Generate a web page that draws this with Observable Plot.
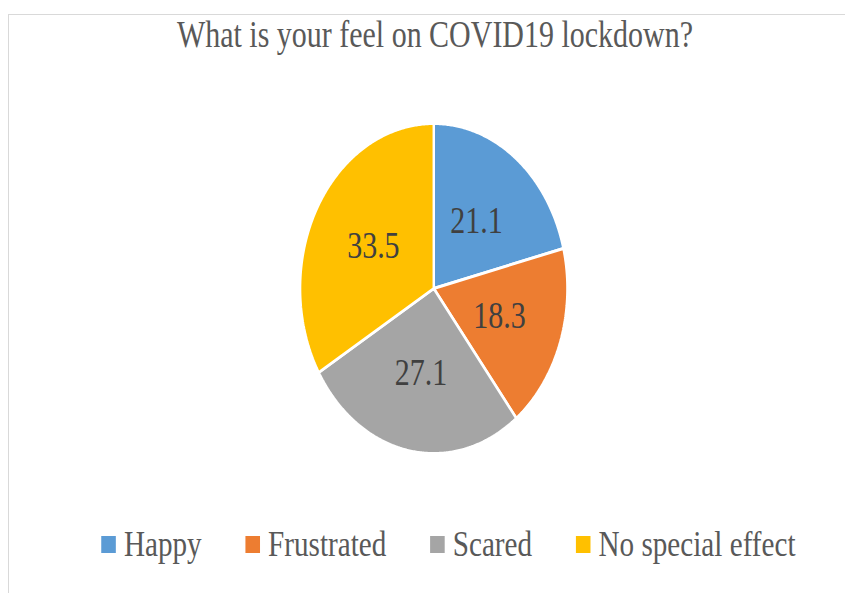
<!DOCTYPE html>
<html>
<head>
<meta charset="utf-8">
<script src="https://cdn.jsdelivr.net/npm/d3@7"></script>
<script src="https://cdn.jsdelivr.net/npm/@observablehq/plot@0.6"></script>
<style>
  html, body { margin: 0; padding: 0; background: #fff; overflow: hidden; width: 845px; height: 593px; }
  #frame { position: absolute; left: 8px; top: 14px; width: 900px; height: 700px;
           border-left: 1px solid #d9d9d9; border-top: 1px solid #d9d9d9; box-sizing: border-box; }
  #wrap { position: absolute; left: 0; top: 0; width: 1043px; transform: scaleX(0.81); transform-origin: 0 0;
          font-family: "Liberation Serif", "Times New Roman", serif; }
  #title { box-sizing: border-box; padding-top: 16px; height: 80px; line-height: 37px; font-size: 37px;
           color: #595959; text-align: center; padding-left: 31px; white-space: nowrap; }
  #chart svg { display: block; }
  #legend { margin-top: 26px; display: flex; align-items: center; padding-left: 125px;
            font-size: 36px; line-height: 36px; color: #595959; white-space: nowrap; }
  .item { display: flex; align-items: center; margin-right: 54px; }
  .sw { width: 18px; height: 17px; margin-right: 10px; flex: none; }
</style>
</head>
<body>
<div id="frame"></div>
<div id="wrap">
  <div id="title"></div>
  <div id="chart"></div>
  <div id="legend"></div>
</div>
<script>
const titleText = "What is your feel on COVID19 lockdown?";
const categories = ["Happy", "Frustrated", "Scared", "No special effect"];
const values = [21.1, 18.3, 27.1, 33.5];
const valueLabels = ["21.1", "18.3", "27.1", "33.5"];
const colors = ["#5B9BD5", "#ED7D31", "#A5A5A5", "#FFC000"];

document.getElementById("title").textContent = titleText;

const rows = categories.map((c, i) => ({category: c, value: values[i], label: valueLabels[i]}));
const arcs = d3.pie().sort(null).value(d => d.value)(rows);

// slice outlines in unit-circle coordinates (angle 0 at 12 o'clock, clockwise)
const outline = [];
for (const a of arcs) {
  const cat = a.data.category;
  outline.push({category: cat, x: 0, y: 0});
  const n = Math.max(2, Math.ceil((a.endAngle - a.startAngle) / (Math.PI / 360)));
  for (let k = 0; k <= n; k++) {
    const t = a.startAngle + (a.endAngle - a.startAngle) * k / n;
    outline.push({category: cat, x: Math.sin(t), y: Math.cos(t)});
  }
}
const labelPos = arcs.map(a => {
  const m = (a.startAngle + a.endAngle) / 2;
  return {label: a.data.label, x: 0.52 * Math.sin(m), y: 0.52 * Math.cos(m)};
});

const W = 1043, H = 420, cx = 535, cy = 208, r = 165;
const chart = Plot.plot({
  width: W, height: H, margin: 0,
  x: {domain: [-1, 1], range: [cx - r, cx + r], axis: null},
  y: {domain: [-1, 1], range: [cy + r, cy - r], axis: null},
  color: {domain: categories, range: colors},
  marks: [
    Plot.line(outline, {x: "x", y: "y", z: "category", fill: "category", stroke: "white",
      strokeWidth: 3, strokeLinejoin: "miter", curve: "linear-closed"}),
    Plot.text(labelPos, {x: "x", y: "y", text: "label", fill: "#404040", fontSize: 37,
      fontFamily: "Liberation Serif, Times New Roman, serif"})
  ]
});
document.getElementById("chart").appendChild(chart);

const legend = document.getElementById("legend");
const colorScale = chart.scale("color");
categories.forEach((c) => {
  const item = document.createElement("div");
  item.className = "item";
  const sw = document.createElement("div");
  sw.className = "sw";
  sw.style.background = colorScale.apply(c);
  const tx = document.createElement("span");
  tx.textContent = c;
  item.appendChild(sw);
  item.appendChild(tx);
  legend.appendChild(item);
});
</script>
</body>
</html>
